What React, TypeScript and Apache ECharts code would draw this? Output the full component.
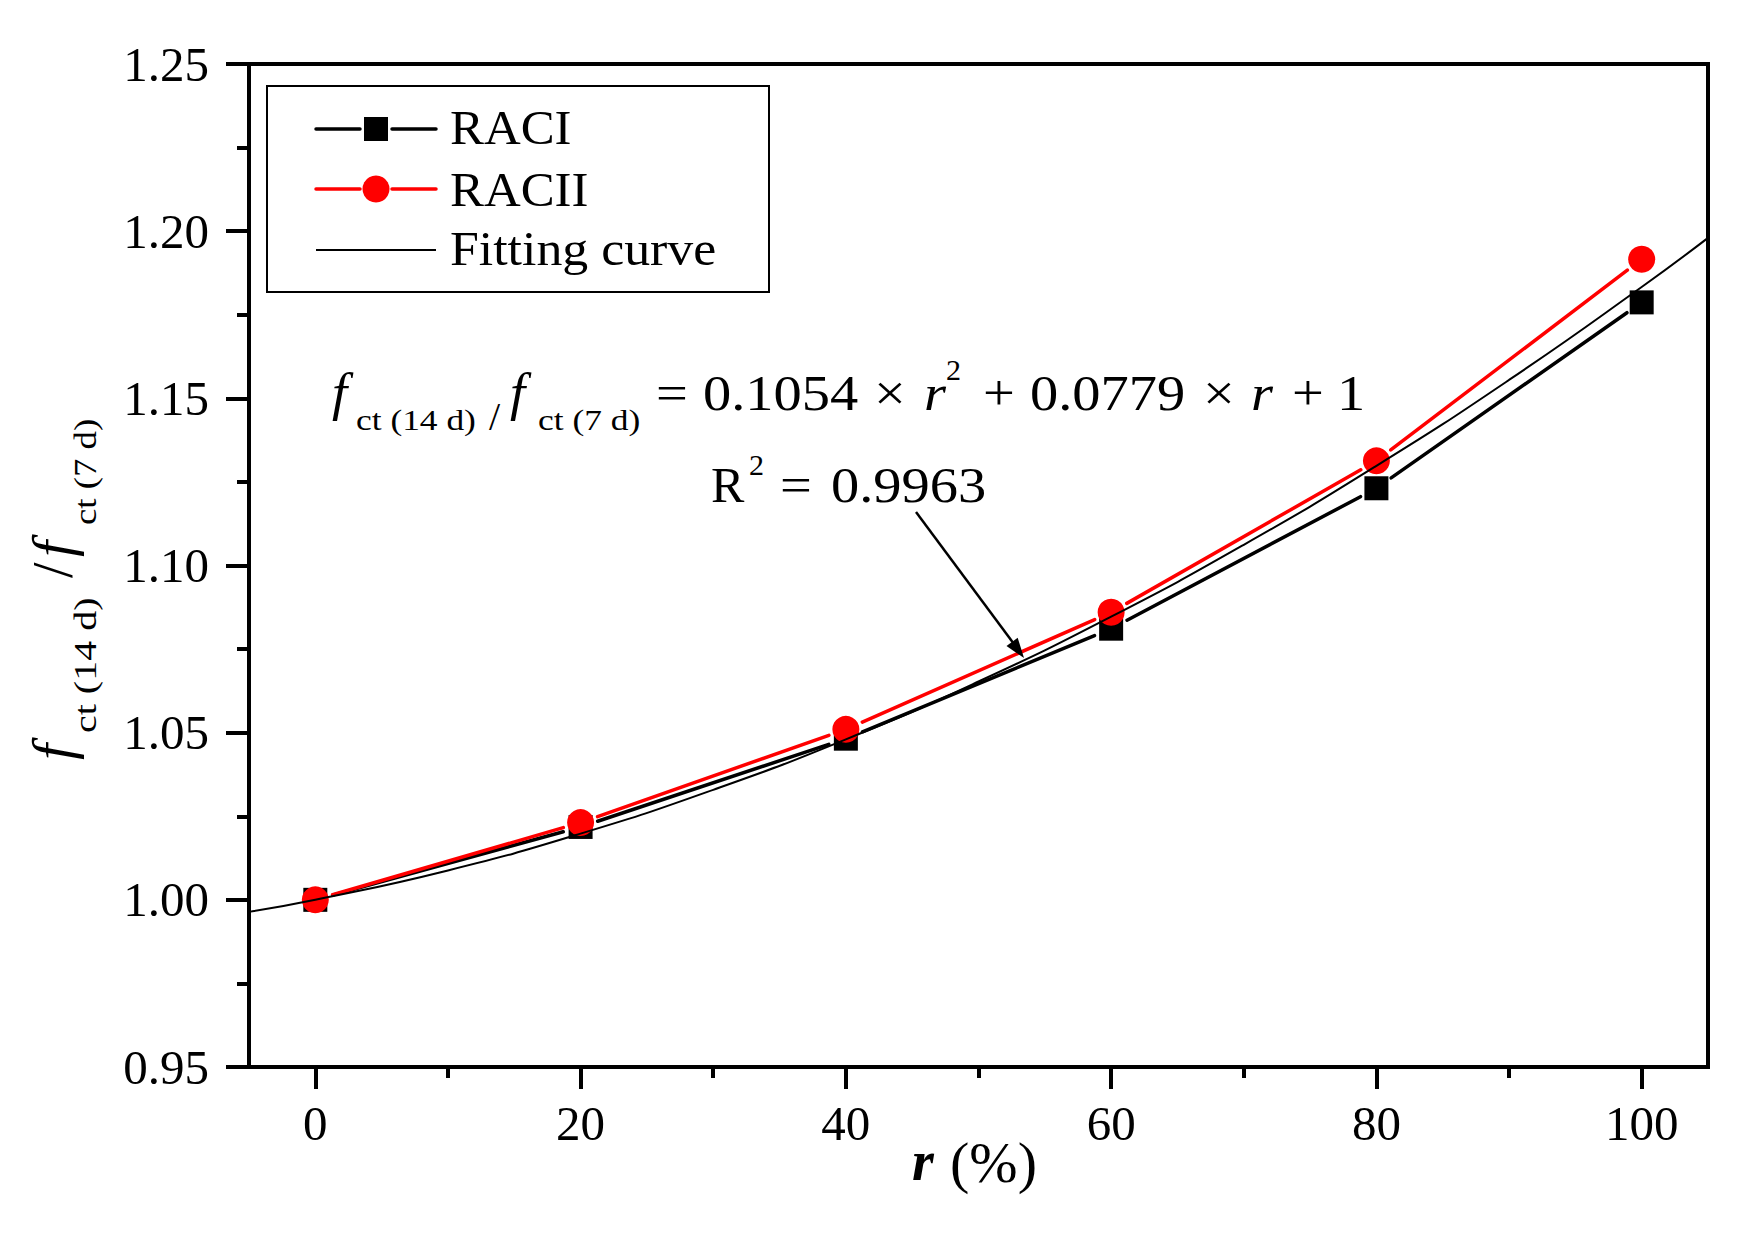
import React, { useEffect, useRef } from "react";
import * as echarts from "echarts";

// ---- data ----
const xValues = [0, 20, 40, 60, 80, 100];
const raciValues = [1.0, 1.0218, 1.0482, 1.0811, 1.1231, 1.1787];
const raciiValues = [1.0, 1.0231, 1.051, 1.086, 1.1313, 1.1916];
const fitX = [-5, 0, 10, 20, 30, 40, 50, 60, 70, 80, 90, 100, 105];
const fitY = [0.9964, 1.0, 1.0088, 1.0198, 1.0329, 1.048, 1.0653, 1.0847, 1.1062, 1.1298, 1.1555, 1.1833, 1.198];
const xTickValues = [0, 20, 40, 60, 80, 100];
const xMinorTickValues = [10, 30, 50, 70, 90];
const xRange = [-5, 105];
const yRange = [0.95, 1.25];
const yStep = 0.05;

const SERIF = "'Liberation Serif', 'Times New Roman', serif";

function txt(text: string, x: number, baseline: number, size: number, o: any = {}) {
  return {
    type: "text",
    x,
    y: baseline - 0.3375 * size,
    scaleX: o.scaleX ?? 1,
    z: 100,
    style: {
      text,
      fontFamily: SERIF,
      fontSize: size,
      fontStyle: o.italic ? "italic" : "normal",
      fontWeight: o.bold ? "bold" : "normal",
      fill: o.color ?? "#000",
      align: "left",
      verticalAlign: "middle",
      textAlign: "left",
      textVerticalAlign: "middle",
    },
  };
}

function segments(vals: number[]) {
  return xValues.slice(0, -1).map((x, i) => [x, vals[i], xValues[i + 1], vals[i + 1]]);
}

function segSeries(vals: number[], color: string, z: number) {
  const gap = 18;
  return {
    type: "custom",
    z,
    data: segments(vals),
    encode: { x: [0, 2], y: [1, 3] },
    renderItem: (_p: any, api: any) => {
      const a = api.coord([api.value(0), api.value(1)]);
      const b = api.coord([api.value(2), api.value(3)]);
      const dx = b[0] - a[0];
      const dy = b[1] - a[1];
      const len = Math.hypot(dx, dy) || 1;
      const ux = dx / len;
      const uy = dy / len;
      return {
        type: "line",
        shape: { x1: a[0] + ux * gap, y1: a[1] + uy * gap, x2: b[0] - ux * gap, y2: b[1] - uy * gap },
        style: { stroke: color, lineWidth: 3.5, lineCap: "round" },
      };
    },
  };
}

export default function App() {
  const ref = useRef<HTMLDivElement>(null);
  useEffect(() => {
    document.body.style.margin = "0";
    const chart = echarts.init(ref.current!, null, { renderer: "svg" });

    const eqF = 50;
    const eqS = 1.13;
    const eqB = 410;
    const subB = 430;
    const subF = 30;
    const subS = 1.18;

    const graphics: any[] = [
      // legend box
      {
        type: "rect",
        shape: { x: 267, y: 86, width: 502, height: 206 },
        style: { fill: "#fff", stroke: "#000", lineWidth: 2 },
        z: 90,
      },
      { type: "line", shape: { x1: 316, y1: 129, x2: 360, y2: 129 }, style: { stroke: "#000", lineWidth: 3.5, lineCap: "round" }, z: 95 },
      { type: "line", shape: { x1: 392, y1: 129, x2: 436, y2: 129 }, style: { stroke: "#000", lineWidth: 3.5, lineCap: "round" }, z: 95 },
      { type: "rect", shape: { x: 364, y: 117, width: 24, height: 24 }, style: { fill: "#000" }, z: 95 },
      { type: "line", shape: { x1: 316, y1: 189, x2: 360, y2: 189 }, style: { stroke: "#ff0000", lineWidth: 3.5, lineCap: "round" }, z: 95 },
      { type: "line", shape: { x1: 392, y1: 189, x2: 436, y2: 189 }, style: { stroke: "#ff0000", lineWidth: 3.5, lineCap: "round" }, z: 95 },
      { type: "circle", shape: { cx: 376, cy: 189, r: 13.5 }, style: { fill: "#ff0000" }, z: 95 },
      { type: "line", shape: { x1: 316, y1: 250, x2: 436, y2: 250 }, style: { stroke: "#000", lineWidth: 2 }, z: 95 },
      txt("RACI", 450, 144, 48, { scaleX: 1.06 }),
      txt("RACII", 450, 206, 48, { scaleX: 1.06 }),
      txt("Fitting curve", 450, 265, 48, { scaleX: 1.08 }),

      // equation
      txt("f", 332, eqB, 52, { italic: true, scaleX: 1.05 }),
      txt("ct (14 d)", 356, subB, subF, { scaleX: subS }),
      txt("/", 489, 430, 40),
      txt("f", 510, eqB, 52, { italic: true, scaleX: 1.05 }),
      txt("ct (7 d)", 538, subB, subF, { scaleX: subS }),
      txt("=", 656, eqB, eqF, { scaleX: eqS }),
      txt("0.1054", 703, eqB, eqF, { scaleX: eqS }),
      txt("×", 874, eqB, eqF, { scaleX: eqS }),
      txt("r", 924, eqB, eqF, { italic: true, scaleX: eqS }),
      txt("2", 946, 380, 30),
      txt("+", 983, eqB, eqF, { scaleX: eqS }),
      txt("0.0779", 1030, eqB, eqF, { scaleX: eqS }),
      txt("×", 1203, eqB, eqF, { scaleX: eqS }),
      txt("r", 1251, eqB, eqF, { italic: true, scaleX: eqS }),
      txt("+", 1292, eqB, eqF, { scaleX: eqS }),
      txt("1", 1337, eqB, eqF, { scaleX: eqS }),

      // R^2
      txt("R", 711, 502, eqF),
      txt("2", 749, 475, 30),
      txt("=", 780, 502, eqF, { scaleX: eqS }),
      txt("0.9963", 831, 502, eqF, { scaleX: eqS }),

      // arrow
      { type: "line", shape: { x1: 916, y1: 512, x2: 1014, y2: 644 }, style: { stroke: "#000", lineWidth: 2.5 }, z: 100 },
      {
        type: "polygon",
        shape: { points: [[1024, 658], [1006.5, 646.1], [1017.7, 637.7]] },
        style: { fill: "#000" },
        z: 100,
      },

      // x axis title
      txt("r", 912, 1180, 56, { italic: true, bold: true }),
      txt("(%)", 950, 1182, 58),

      // y axis title (rotated)
      {
        type: "group",
        x: 72,
        y: 760,
        rotation: Math.PI / 2,
        children: [
          txt("f", 0, 0, 58, { italic: true }),
          txt("ct (14 d)", 27, 24, 32, { scaleX: 1.25 }),
          txt("/", 182, 0, 56),
          txt("f", 203, 0, 58, { italic: true }),
          txt("ct (7 d)", 235, 24, 32, { scaleX: 1.15 }),
        ],
      },
    ];

    const option: any = {
      animation: false,
      backgroundColor: "#fff",
      grid: {
        left: 249,
        right: 43,
        top: 64,
        bottom: 166,
        show: true,
        borderColor: "#000",
        borderWidth: 4,
        backgroundColor: "transparent",
      },
      xAxis: [
        {
          type: "value",
          min: xRange[0],
          max: xRange[1],
          position: "bottom",
          axisLine: { show: true, onZero: false, lineStyle: { color: "#000", width: 4 } },
          axisTick: { show: true, customValues: xTickValues, length: 22, lineStyle: { color: "#000", width: 4 } },
          axisLabel: {
            show: true,
            customValues: xTickValues,
            margin: 32,
            fontSize: 49,
            fontFamily: SERIF,
            color: "#000",
          },
          splitLine: { show: false },
        },
        {
          type: "value",
          min: xRange[0],
          max: xRange[1],
          position: "bottom",
          axisLine: { show: false, onZero: false },
          axisTick: { show: true, customValues: xMinorTickValues, length: 11, lineStyle: { color: "#000", width: 4 } },
          axisLabel: { show: false },
          splitLine: { show: false },
        },
      ],
      yAxis: {
        type: "value",
        min: yRange[0],
        max: yRange[1],
        interval: yStep,
        axisLine: { show: true, onZero: false, lineStyle: { color: "#000", width: 4 } },
        axisTick: { show: true, length: 23, lineStyle: { color: "#000", width: 4 } },
        minorTick: { show: true, splitNumber: 2, length: 12, lineStyle: { color: "#000", width: 4 } },
        axisLabel: {
          margin: 40,
          fontSize: 49,
          fontFamily: SERIF,
          color: "#000",
          formatter: (v: number) => v.toFixed(2),
        },
        splitLine: { show: false },
      },
      series: [
        segSeries(raciValues, "#000", 2),
        {
          type: "scatter",
          z: 3,
          symbol: "rect",
          symbolSize: 24,
          itemStyle: { color: "#000", opacity: 1 },
          data: xValues.map((x, i) => [x, raciValues[i]]),
        },
        segSeries(raciiValues, "#ff0000", 4),
        {
          type: "scatter",
          z: 5,
          symbol: "circle",
          symbolSize: 27,
          itemStyle: { color: "#ff0000", opacity: 1 },
          data: xValues.map((x, i) => [x, raciiValues[i]]),
        },
        {
          type: "line",
          z: 6,
          smooth: true,
          showSymbol: false,
          symbol: "none",
          lineStyle: { color: "#000", width: 2 },
          data: fitX.map((x, i) => [x, fitY[i]]),
        },
      ],
      graphic: graphics,
    };
    chart.setOption(option);
    return () => chart.dispose();
  }, []);
  return <div ref={ref} style={{ width: 1751, height: 1233 }} />;
}
